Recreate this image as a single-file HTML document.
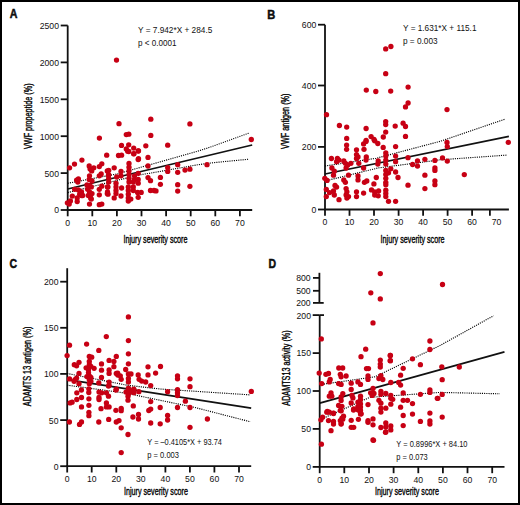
<!DOCTYPE html>
<html><head><meta charset="utf-8"><style>
html,body{margin:0;padding:0;background:#fff;}
svg{display:block;}
text{font-family:"Liberation Sans",sans-serif;fill:#111;}
line{stroke:#111;}
circle{fill:#c70014;}
.c{stroke:#000;fill:#000;stroke-width:0.35;}
</style></head><body>
<svg width="520" height="505" viewBox="0 0 520 505">
<rect x="1" y="1" width="518" height="503" fill="#fff" stroke="#000" stroke-width="2"/>
<line x1="67.7" y1="25.5" x2="67.7" y2="216.3" stroke-width="1.8"/>
<line x1="66.8" y1="210.0" x2="252.2" y2="210.0" stroke-width="1.8"/>
<line x1="60.7" y1="210.0" x2="67.7" y2="210.0" stroke-width="1.8"/>
<text x="59.0" y="213.4" text-anchor="end" font-size="9.8" textLength="4.82" lengthAdjust="spacingAndGlyphs">0</text>
<line x1="60.7" y1="173.1" x2="67.7" y2="173.1" stroke-width="1.8"/>
<text x="59.0" y="176.5" text-anchor="end" font-size="9.8" textLength="14.47" lengthAdjust="spacingAndGlyphs">500</text>
<line x1="60.7" y1="136.2" x2="67.7" y2="136.2" stroke-width="1.8"/>
<text x="59.0" y="139.6" text-anchor="end" font-size="9.8" textLength="19.29" lengthAdjust="spacingAndGlyphs">1000</text>
<line x1="60.7" y1="99.3" x2="67.7" y2="99.3" stroke-width="1.8"/>
<text x="59.0" y="102.7" text-anchor="end" font-size="9.8" textLength="19.29" lengthAdjust="spacingAndGlyphs">1500</text>
<line x1="60.7" y1="62.4" x2="67.7" y2="62.4" stroke-width="1.8"/>
<text x="59.0" y="65.8" text-anchor="end" font-size="9.8" textLength="19.29" lengthAdjust="spacingAndGlyphs">2000</text>
<line x1="60.7" y1="25.5" x2="67.7" y2="25.5" stroke-width="1.8"/>
<text x="59.0" y="28.9" text-anchor="end" font-size="9.8" textLength="19.29" lengthAdjust="spacingAndGlyphs">2500</text>
<text x="67.7" y="225.9" text-anchor="middle" font-size="9.8" textLength="4.82" lengthAdjust="spacingAndGlyphs">0</text>
<line x1="92.3" y1="210.0" x2="92.3" y2="216.3" stroke-width="1.8"/>
<text x="92.3" y="225.9" text-anchor="middle" font-size="9.8" textLength="9.65" lengthAdjust="spacingAndGlyphs">10</text>
<line x1="116.9" y1="210.0" x2="116.9" y2="216.3" stroke-width="1.8"/>
<text x="116.9" y="225.9" text-anchor="middle" font-size="9.8" textLength="9.65" lengthAdjust="spacingAndGlyphs">20</text>
<line x1="141.5" y1="210.0" x2="141.5" y2="216.3" stroke-width="1.8"/>
<text x="141.5" y="225.9" text-anchor="middle" font-size="9.8" textLength="9.65" lengthAdjust="spacingAndGlyphs">30</text>
<line x1="166.1" y1="210.0" x2="166.1" y2="216.3" stroke-width="1.8"/>
<text x="166.1" y="225.9" text-anchor="middle" font-size="9.8" textLength="9.65" lengthAdjust="spacingAndGlyphs">40</text>
<line x1="190.7" y1="210.0" x2="190.7" y2="216.3" stroke-width="1.8"/>
<text x="190.7" y="225.9" text-anchor="middle" font-size="9.8" textLength="9.65" lengthAdjust="spacingAndGlyphs">50</text>
<line x1="215.3" y1="210.0" x2="215.3" y2="216.3" stroke-width="1.8"/>
<text x="215.3" y="225.9" text-anchor="middle" font-size="9.8" textLength="9.65" lengthAdjust="spacingAndGlyphs">60</text>
<line x1="239.9" y1="210.0" x2="239.9" y2="216.3" stroke-width="1.8"/>
<text x="239.9" y="225.9" text-anchor="middle" font-size="9.8" textLength="9.65" lengthAdjust="spacingAndGlyphs">70</text>
<text x="155.5" y="243.3" text-anchor="middle" font-size="10.4" textLength="64" lengthAdjust="spacingAndGlyphs" class="c">Injury severity score</text>
<text x="9.7" y="18.0" text-anchor="start" font-size="12" font-weight="bold" stroke="#000" stroke-width="0.45" textLength="7.7" lengthAdjust="spacingAndGlyphs">A</text>
<text x="138.0" y="33.1" text-anchor="start" font-size="8.2" textLength="74.3" lengthAdjust="spacingAndGlyphs">Y = 7.942*X + 284.5</text>
<text x="138.0" y="46.0" text-anchor="start" font-size="8.2" textLength="38.5" lengthAdjust="spacingAndGlyphs">p &lt; 0.0001</text>
<text transform="translate(31.8,116.2) rotate(-90)" text-anchor="middle" font-size="10" class="c" textLength="65.6" lengthAdjust="spacingAndGlyphs">VWF propeptide (%)</text>
<line x1="67.7" y1="189.0" x2="252.2" y2="145.0" stroke-width="1.75"/>
<line x1="325.0" y1="24.7" x2="325.0" y2="215.8" stroke-width="1.8"/>
<line x1="324.1" y1="209.5" x2="508.9" y2="209.5" stroke-width="1.8"/>
<line x1="318.0" y1="209.5" x2="325.0" y2="209.5" stroke-width="1.8"/>
<text x="316.3" y="212.9" text-anchor="end" font-size="9.8" textLength="4.82" lengthAdjust="spacingAndGlyphs">0</text>
<line x1="318.0" y1="146.9" x2="325.0" y2="146.9" stroke-width="1.8"/>
<text x="316.3" y="150.3" text-anchor="end" font-size="9.8" textLength="14.47" lengthAdjust="spacingAndGlyphs">200</text>
<line x1="318.0" y1="85.5" x2="325.0" y2="85.5" stroke-width="1.8"/>
<text x="316.3" y="88.9" text-anchor="end" font-size="9.8" textLength="14.47" lengthAdjust="spacingAndGlyphs">400</text>
<line x1="318.0" y1="24.7" x2="325.0" y2="24.7" stroke-width="1.8"/>
<text x="316.3" y="28.1" text-anchor="end" font-size="9.8" textLength="14.47" lengthAdjust="spacingAndGlyphs">600</text>
<text x="325.0" y="225.4" text-anchor="middle" font-size="9.8" textLength="4.82" lengthAdjust="spacingAndGlyphs">0</text>
<line x1="349.5" y1="209.5" x2="349.5" y2="215.8" stroke-width="1.8"/>
<text x="349.5" y="225.4" text-anchor="middle" font-size="9.8" textLength="9.65" lengthAdjust="spacingAndGlyphs">10</text>
<line x1="374.0" y1="209.5" x2="374.0" y2="215.8" stroke-width="1.8"/>
<text x="374.0" y="225.4" text-anchor="middle" font-size="9.8" textLength="9.65" lengthAdjust="spacingAndGlyphs">20</text>
<line x1="398.6" y1="209.5" x2="398.6" y2="215.8" stroke-width="1.8"/>
<text x="398.6" y="225.4" text-anchor="middle" font-size="9.8" textLength="9.65" lengthAdjust="spacingAndGlyphs">30</text>
<line x1="423.1" y1="209.5" x2="423.1" y2="215.8" stroke-width="1.8"/>
<text x="423.1" y="225.4" text-anchor="middle" font-size="9.8" textLength="9.65" lengthAdjust="spacingAndGlyphs">40</text>
<line x1="447.6" y1="209.5" x2="447.6" y2="215.8" stroke-width="1.8"/>
<text x="447.6" y="225.4" text-anchor="middle" font-size="9.8" textLength="9.65" lengthAdjust="spacingAndGlyphs">50</text>
<line x1="472.1" y1="209.5" x2="472.1" y2="215.8" stroke-width="1.8"/>
<text x="472.1" y="225.4" text-anchor="middle" font-size="9.8" textLength="9.65" lengthAdjust="spacingAndGlyphs">60</text>
<line x1="489.9" y1="209.5" x2="489.9" y2="215.8" stroke-width="1.8"/>
<text x="496.6" y="225.4" text-anchor="middle" font-size="9.8" textLength="9.65" lengthAdjust="spacingAndGlyphs">70</text>
<text x="412.6" y="243.3" text-anchor="middle" font-size="10.4" textLength="64" lengthAdjust="spacingAndGlyphs" class="c">Injury severity score</text>
<text x="267.2" y="18.7" text-anchor="start" font-size="12" font-weight="bold" stroke="#000" stroke-width="0.45" textLength="8.0" lengthAdjust="spacingAndGlyphs">B</text>
<text x="403.0" y="31.2" text-anchor="start" font-size="8.2" textLength="73.5" lengthAdjust="spacingAndGlyphs">Y = 1.631*X + 115.1</text>
<text x="403.0" y="43.6" text-anchor="start" font-size="8.2" textLength="34.6" lengthAdjust="spacingAndGlyphs">p = 0.003</text>
<text transform="translate(289.3,121.2) rotate(-90)" text-anchor="middle" font-size="10" class="c" textLength="55.4" lengthAdjust="spacingAndGlyphs">VWF antigen (%)</text>
<line x1="325.0" y1="174.0" x2="508.9" y2="136.4" stroke-width="1.75"/>
<line x1="67.2" y1="268.2" x2="67.2" y2="472.5" stroke-width="1.8"/>
<line x1="66.3" y1="466.2" x2="251.2" y2="466.2" stroke-width="1.8"/>
<line x1="60.2" y1="466.2" x2="67.2" y2="466.2" stroke-width="1.8"/>
<text x="58.5" y="469.6" text-anchor="end" font-size="9.8" textLength="4.82" lengthAdjust="spacingAndGlyphs">0</text>
<line x1="60.2" y1="420.1" x2="67.2" y2="420.1" stroke-width="1.8"/>
<text x="58.5" y="423.5" text-anchor="end" font-size="9.8" textLength="9.65" lengthAdjust="spacingAndGlyphs">50</text>
<line x1="60.2" y1="373.9" x2="67.2" y2="373.9" stroke-width="1.8"/>
<text x="58.5" y="377.3" text-anchor="end" font-size="9.8" textLength="14.47" lengthAdjust="spacingAndGlyphs">100</text>
<line x1="60.2" y1="327.8" x2="67.2" y2="327.8" stroke-width="1.8"/>
<text x="58.5" y="331.2" text-anchor="end" font-size="9.8" textLength="14.47" lengthAdjust="spacingAndGlyphs">150</text>
<line x1="60.2" y1="281.7" x2="67.2" y2="281.7" stroke-width="1.8"/>
<text x="58.5" y="285.1" text-anchor="end" font-size="9.8" textLength="14.47" lengthAdjust="spacingAndGlyphs">200</text>
<text x="67.2" y="482.1" text-anchor="middle" font-size="9.8" textLength="4.82" lengthAdjust="spacingAndGlyphs">0</text>
<line x1="91.7" y1="466.2" x2="91.7" y2="472.5" stroke-width="1.8"/>
<text x="91.7" y="482.1" text-anchor="middle" font-size="9.8" textLength="9.65" lengthAdjust="spacingAndGlyphs">10</text>
<line x1="116.3" y1="466.2" x2="116.3" y2="472.5" stroke-width="1.8"/>
<text x="116.3" y="482.1" text-anchor="middle" font-size="9.8" textLength="9.65" lengthAdjust="spacingAndGlyphs">20</text>
<line x1="140.8" y1="466.2" x2="140.8" y2="472.5" stroke-width="1.8"/>
<text x="140.8" y="482.1" text-anchor="middle" font-size="9.8" textLength="9.65" lengthAdjust="spacingAndGlyphs">30</text>
<line x1="165.4" y1="466.2" x2="165.4" y2="472.5" stroke-width="1.8"/>
<text x="165.4" y="482.1" text-anchor="middle" font-size="9.8" textLength="9.65" lengthAdjust="spacingAndGlyphs">40</text>
<line x1="189.9" y1="466.2" x2="189.9" y2="472.5" stroke-width="1.8"/>
<text x="189.9" y="482.1" text-anchor="middle" font-size="9.8" textLength="9.65" lengthAdjust="spacingAndGlyphs">50</text>
<line x1="214.4" y1="466.2" x2="214.4" y2="472.5" stroke-width="1.8"/>
<text x="214.4" y="482.1" text-anchor="middle" font-size="9.8" textLength="9.65" lengthAdjust="spacingAndGlyphs">60</text>
<line x1="239.0" y1="466.2" x2="239.0" y2="472.5" stroke-width="1.8"/>
<text x="239.0" y="482.1" text-anchor="middle" font-size="9.8" textLength="9.65" lengthAdjust="spacingAndGlyphs">70</text>
<text x="155.9" y="495.0" text-anchor="middle" font-size="10.4" textLength="64" lengthAdjust="spacingAndGlyphs" class="c">Injury severity score</text>
<text x="9.4" y="268.4" text-anchor="start" font-size="12" font-weight="bold" stroke="#000" stroke-width="0.45" textLength="7.6" lengthAdjust="spacingAndGlyphs">C</text>
<text x="147.3" y="445.4" text-anchor="start" font-size="8.2" textLength="74.6" lengthAdjust="spacingAndGlyphs">Y = &#8211;0.4105*X + 93.74</text>
<text x="147.3" y="457.5" text-anchor="start" font-size="8.2" textLength="31.7" lengthAdjust="spacingAndGlyphs">p = 0.003</text>
<text transform="translate(31.3,366.4) rotate(-90)" text-anchor="middle" font-size="10" class="c" textLength="79.6" lengthAdjust="spacingAndGlyphs">ADAMTS 13 antigen (%)</text>
<line x1="67.2" y1="379.7" x2="251.2" y2="408.1" stroke-width="1.75"/>
<line x1="319.7" y1="315.1" x2="319.7" y2="473.2" stroke-width="1.8"/>
<line x1="318.8" y1="466.9" x2="504.5" y2="466.9" stroke-width="1.8"/>
<line x1="312.7" y1="466.9" x2="319.7" y2="466.9" stroke-width="1.8"/>
<text x="311.0" y="470.3" text-anchor="end" font-size="9.8" textLength="4.82" lengthAdjust="spacingAndGlyphs">0</text>
<line x1="312.7" y1="428.9" x2="319.7" y2="428.9" stroke-width="1.8"/>
<text x="311.0" y="432.3" text-anchor="end" font-size="9.8" textLength="9.65" lengthAdjust="spacingAndGlyphs">50</text>
<line x1="312.7" y1="391.0" x2="319.7" y2="391.0" stroke-width="1.8"/>
<text x="311.0" y="394.4" text-anchor="end" font-size="9.8" textLength="14.47" lengthAdjust="spacingAndGlyphs">100</text>
<line x1="312.7" y1="353.1" x2="319.7" y2="353.1" stroke-width="1.8"/>
<text x="311.0" y="356.4" text-anchor="end" font-size="9.8" textLength="14.47" lengthAdjust="spacingAndGlyphs">150</text>
<line x1="312.7" y1="315.1" x2="319.7" y2="315.1" stroke-width="1.8"/>
<text x="311.0" y="318.5" text-anchor="end" font-size="9.8" textLength="14.47" lengthAdjust="spacingAndGlyphs">200</text>
<text x="319.7" y="482.8" text-anchor="middle" font-size="9.8" textLength="4.82" lengthAdjust="spacingAndGlyphs">0</text>
<line x1="344.3" y1="466.9" x2="344.3" y2="473.2" stroke-width="1.8"/>
<text x="344.3" y="482.8" text-anchor="middle" font-size="9.8" textLength="9.65" lengthAdjust="spacingAndGlyphs">10</text>
<line x1="369.0" y1="466.9" x2="369.0" y2="473.2" stroke-width="1.8"/>
<text x="369.0" y="482.8" text-anchor="middle" font-size="9.8" textLength="9.65" lengthAdjust="spacingAndGlyphs">20</text>
<line x1="393.6" y1="466.9" x2="393.6" y2="473.2" stroke-width="1.8"/>
<text x="393.6" y="482.8" text-anchor="middle" font-size="9.8" textLength="9.65" lengthAdjust="spacingAndGlyphs">30</text>
<line x1="418.3" y1="466.9" x2="418.3" y2="473.2" stroke-width="1.8"/>
<text x="418.3" y="482.8" text-anchor="middle" font-size="9.8" textLength="9.65" lengthAdjust="spacingAndGlyphs">40</text>
<line x1="442.9" y1="466.9" x2="442.9" y2="473.2" stroke-width="1.8"/>
<text x="442.9" y="482.8" text-anchor="middle" font-size="9.8" textLength="9.65" lengthAdjust="spacingAndGlyphs">50</text>
<line x1="467.5" y1="466.9" x2="467.5" y2="473.2" stroke-width="1.8"/>
<text x="467.5" y="482.8" text-anchor="middle" font-size="9.8" textLength="9.65" lengthAdjust="spacingAndGlyphs">60</text>
<line x1="492.2" y1="466.9" x2="492.2" y2="473.2" stroke-width="1.8"/>
<text x="492.2" y="482.8" text-anchor="middle" font-size="9.8" textLength="9.65" lengthAdjust="spacingAndGlyphs">70</text>
<text x="406.9" y="495.0" text-anchor="middle" font-size="10.4" textLength="64" lengthAdjust="spacingAndGlyphs" class="c">Injury severity score</text>
<text x="268.6" y="268.1" text-anchor="start" font-size="12" font-weight="bold" stroke="#000" stroke-width="0.45" textLength="7.6" lengthAdjust="spacingAndGlyphs">D</text>
<text x="396.3" y="447.3" text-anchor="start" font-size="8.2" textLength="71.2" lengthAdjust="spacingAndGlyphs">Y = 0.8996*X + 84.10</text>
<text x="396.3" y="460.4" text-anchor="start" font-size="8.2" textLength="31.4" lengthAdjust="spacingAndGlyphs">p = 0.073</text>
<text transform="translate(289.5,368.0) rotate(-90)" text-anchor="middle" font-size="10" class="c" textLength="75.3" lengthAdjust="spacingAndGlyphs">ADAMTS13 activity (%)</text>
<line x1="319.7" y1="403.1" x2="504.5" y2="351.9" stroke-width="1.75"/>
<polyline points="67.7,183.3 118.2,173.7 140.0,167.5 150.0,164.7 197.7,151.2 210.0,147.2 249.7,132.8" fill="none" stroke="#000" stroke-width="1.15" stroke-dasharray="1.1 1.1"/>
<polyline points="67.7,192.6 119.4,179.8 140.0,174.8 150.0,173.2 197.7,164.8 211.4,162.9 248.8,159.2" fill="none" stroke="#000" stroke-width="1.15" stroke-dasharray="1.1 1.1"/>
<polyline points="325.0,166.0 376.0,158.3 435.0,142.7 440.0,141.4 505.5,119.0" fill="none" stroke="#000" stroke-width="1.15" stroke-dasharray="1.1 1.1"/>
<polyline points="325.0,181.0 378.0,168.0 435.0,160.5 440.0,159.8 507.0,155.1" fill="none" stroke="#000" stroke-width="1.15" stroke-dasharray="1.1 1.1"/>
<polyline points="67.2,373.5 127.5,385.3 160.0,389.0 200.0,391.6 250.5,394.9" fill="none" stroke="#000" stroke-width="1.15" stroke-dasharray="1.1 1.1"/>
<polyline points="67.2,385.2 125.0,393.0 195.0,407.5 250.5,421.8" fill="none" stroke="#000" stroke-width="1.15" stroke-dasharray="1.1 1.1"/>
<polyline points="321.7,384.4 370.0,377.5 374.9,376.8 440.0,345.5 493.6,315.7" fill="none" stroke="#000" stroke-width="1.15" stroke-dasharray="1.1 1.1"/>
<polyline points="321.7,418.9 370.0,397.3 440.0,392.4 499.9,393.8" fill="none" stroke="#000" stroke-width="1.15" stroke-dasharray="1.1 1.1"/>
<line x1="319.7" y1="315.1" x2="324.0" y2="315.1" stroke-width="1.8"/>
<line x1="319.4" y1="272.8" x2="319.4" y2="302.9" stroke-width="1.8"/>
<line x1="313.0" y1="302.9" x2="323.7" y2="302.9" stroke-width="1.8"/>
<line x1="313.0" y1="277.9" x2="319.4" y2="277.9" stroke-width="1.8"/>
<line x1="313.0" y1="290.8" x2="319.4" y2="290.8" stroke-width="1.8"/>
<text x="310.7" y="281.3" text-anchor="end" font-size="9.8" textLength="14.47" lengthAdjust="spacingAndGlyphs">800</text>
<text x="310.7" y="294.2" text-anchor="end" font-size="9.8" textLength="14.47" lengthAdjust="spacingAndGlyphs">500</text>
<text x="310.7" y="306.3" text-anchor="end" font-size="9.8" textLength="14.47" lengthAdjust="spacingAndGlyphs">200</text>
<circle cx="116.5" cy="60.1" r="2.65"/>
<circle cx="106.7" cy="155.2" r="2.65"/>
<circle cx="81.9" cy="160.1" r="2.65"/>
<circle cx="74.5" cy="164.1" r="2.65"/>
<circle cx="69.6" cy="167.8" r="2.65"/>
<circle cx="89.2" cy="166.0" r="2.65"/>
<circle cx="90.1" cy="169.0" r="2.65"/>
<circle cx="93.8" cy="167.8" r="2.65"/>
<circle cx="91.7" cy="170.9" r="2.65"/>
<circle cx="101.8" cy="163.8" r="2.65"/>
<circle cx="99.3" cy="166.6" r="2.65"/>
<circle cx="107.3" cy="170.9" r="2.65"/>
<circle cx="101.2" cy="174.0" r="2.65"/>
<circle cx="99.3" cy="175.8" r="2.65"/>
<circle cx="108.5" cy="175.2" r="2.65"/>
<circle cx="89.5" cy="175.8" r="2.65"/>
<circle cx="89.2" cy="179.5" r="2.65"/>
<circle cx="78.4" cy="178.9" r="2.65"/>
<circle cx="76.6" cy="180.1" r="2.65"/>
<circle cx="77.8" cy="182.0" r="2.65"/>
<circle cx="92.0" cy="181.0" r="2.65"/>
<circle cx="87.0" cy="185.0" r="2.65"/>
<circle cx="89.5" cy="185.6" r="2.65"/>
<circle cx="91.3" cy="186.9" r="2.65"/>
<circle cx="74.7" cy="189.3" r="2.65"/>
<circle cx="78.4" cy="189.9" r="2.65"/>
<circle cx="81.5" cy="191.8" r="2.65"/>
<circle cx="79.7" cy="194.2" r="2.65"/>
<circle cx="82.7" cy="195.5" r="2.65"/>
<circle cx="87.6" cy="189.3" r="2.65"/>
<circle cx="89.5" cy="191.8" r="2.65"/>
<circle cx="92.0" cy="193.6" r="2.65"/>
<circle cx="88.3" cy="195.5" r="2.65"/>
<circle cx="90.7" cy="197.9" r="2.65"/>
<circle cx="91.3" cy="199.1" r="2.65"/>
<circle cx="89.5" cy="204.1" r="2.65"/>
<circle cx="99.3" cy="189.3" r="2.65"/>
<circle cx="101.8" cy="186.2" r="2.65"/>
<circle cx="99.3" cy="194.8" r="2.65"/>
<circle cx="107.3" cy="193.6" r="2.65"/>
<circle cx="107.9" cy="186.9" r="2.65"/>
<circle cx="72.3" cy="196.1" r="2.65"/>
<circle cx="77.2" cy="197.9" r="2.65"/>
<circle cx="77.2" cy="201.6" r="2.65"/>
<circle cx="70.4" cy="201.0" r="2.65"/>
<circle cx="67.4" cy="202.8" r="2.65"/>
<circle cx="69.2" cy="204.1" r="2.65"/>
<circle cx="99.3" cy="204.7" r="2.65"/>
<circle cx="101.8" cy="204.1" r="2.65"/>
<circle cx="81.5" cy="195.5" r="2.65"/>
<circle cx="118.5" cy="155.5" r="2.65"/>
<circle cx="121.6" cy="155.2" r="2.65"/>
<circle cx="127.7" cy="151.2" r="2.65"/>
<circle cx="133.9" cy="153.7" r="2.65"/>
<circle cx="138.2" cy="151.0" r="2.65"/>
<circle cx="148.0" cy="157.4" r="2.65"/>
<circle cx="138.2" cy="159.6" r="2.65"/>
<circle cx="114.2" cy="167.8" r="2.65"/>
<circle cx="108.7" cy="170.3" r="2.65"/>
<circle cx="121.0" cy="171.5" r="2.65"/>
<circle cx="148.0" cy="166.0" r="2.65"/>
<circle cx="129.0" cy="163.5" r="2.65"/>
<circle cx="129.0" cy="167.2" r="2.65"/>
<circle cx="129.0" cy="170.9" r="2.65"/>
<circle cx="129.0" cy="174.6" r="2.65"/>
<circle cx="129.0" cy="178.3" r="2.65"/>
<circle cx="129.0" cy="182.0" r="2.65"/>
<circle cx="138.2" cy="173.3" r="2.65"/>
<circle cx="134.5" cy="175.8" r="2.65"/>
<circle cx="134.5" cy="179.5" r="2.65"/>
<circle cx="138.2" cy="179.5" r="2.65"/>
<circle cx="138.2" cy="183.2" r="2.65"/>
<circle cx="133.3" cy="182.0" r="2.65"/>
<circle cx="148.0" cy="177.6" r="2.65"/>
<circle cx="150.5" cy="180.7" r="2.65"/>
<circle cx="108.7" cy="174.6" r="2.65"/>
<circle cx="108.7" cy="178.3" r="2.65"/>
<circle cx="108.7" cy="182.0" r="2.65"/>
<circle cx="116.7" cy="177.0" r="2.65"/>
<circle cx="121.0" cy="175.8" r="2.65"/>
<circle cx="116.0" cy="183.2" r="2.65"/>
<circle cx="116.0" cy="186.9" r="2.65"/>
<circle cx="116.0" cy="190.5" r="2.65"/>
<circle cx="116.0" cy="193.6" r="2.65"/>
<circle cx="121.6" cy="188.0" r="2.65"/>
<circle cx="107.5" cy="186.9" r="2.65"/>
<circle cx="107.5" cy="191.8" r="2.65"/>
<circle cx="108.0" cy="194.2" r="2.65"/>
<circle cx="121.0" cy="196.0" r="2.65"/>
<circle cx="114.2" cy="197.9" r="2.65"/>
<circle cx="128.3" cy="186.9" r="2.65"/>
<circle cx="128.3" cy="190.5" r="2.65"/>
<circle cx="128.3" cy="194.2" r="2.65"/>
<circle cx="128.3" cy="197.9" r="2.65"/>
<circle cx="128.3" cy="201.0" r="2.65"/>
<circle cx="133.3" cy="186.9" r="2.65"/>
<circle cx="133.3" cy="190.5" r="2.65"/>
<circle cx="137.6" cy="192.4" r="2.65"/>
<circle cx="141.2" cy="192.4" r="2.65"/>
<circle cx="138.2" cy="197.3" r="2.65"/>
<circle cx="130.8" cy="199.1" r="2.65"/>
<circle cx="150.5" cy="190.5" r="2.65"/>
<circle cx="154.0" cy="190.5" r="2.65"/>
<circle cx="150.8" cy="119.2" r="2.65"/>
<circle cx="119.0" cy="123.7" r="2.65"/>
<circle cx="99.4" cy="138.1" r="2.65"/>
<circle cx="126.3" cy="134.6" r="2.65"/>
<circle cx="128.8" cy="134.2" r="2.65"/>
<circle cx="150.8" cy="135.4" r="2.65"/>
<circle cx="121.5" cy="145.4" r="2.65"/>
<circle cx="128.7" cy="144.8" r="2.65"/>
<circle cx="126.3" cy="149.0" r="2.65"/>
<circle cx="128.8" cy="151.5" r="2.65"/>
<circle cx="133.7" cy="148.1" r="2.65"/>
<circle cx="138.5" cy="150.8" r="2.65"/>
<circle cx="145.8" cy="145.8" r="2.65"/>
<circle cx="133.7" cy="153.8" r="2.65"/>
<circle cx="138.5" cy="158.7" r="2.65"/>
<circle cx="189.9" cy="123.9" r="2.65"/>
<circle cx="167.7" cy="145.2" r="2.65"/>
<circle cx="251.3" cy="139.5" r="2.65"/>
<circle cx="177.7" cy="164.7" r="2.65"/>
<circle cx="167.7" cy="167.6" r="2.65"/>
<circle cx="167.7" cy="171.4" r="2.65"/>
<circle cx="177.7" cy="172.3" r="2.65"/>
<circle cx="185.0" cy="170.1" r="2.65"/>
<circle cx="189.9" cy="169.2" r="2.65"/>
<circle cx="207.0" cy="164.7" r="2.65"/>
<circle cx="160.4" cy="177.4" r="2.65"/>
<circle cx="160.4" cy="184.3" r="2.65"/>
<circle cx="177.7" cy="184.7" r="2.65"/>
<circle cx="189.9" cy="186.3" r="2.65"/>
<circle cx="156.0" cy="190.9" r="2.65"/>
<circle cx="177.7" cy="191.1" r="2.65"/>
<circle cx="385.7" cy="48.9" r="2.65"/>
<circle cx="390.9" cy="46.5" r="2.65"/>
<circle cx="385.7" cy="73.7" r="2.65"/>
<circle cx="366.3" cy="90.1" r="2.65"/>
<circle cx="375.8" cy="91.5" r="2.65"/>
<circle cx="390.7" cy="91.1" r="2.65"/>
<circle cx="408.1" cy="87.1" r="2.65"/>
<circle cx="408.1" cy="103.0" r="2.65"/>
<circle cx="405.5" cy="106.9" r="2.65"/>
<circle cx="326.5" cy="114.7" r="2.65"/>
<circle cx="339.4" cy="125.5" r="2.65"/>
<circle cx="346.7" cy="127.1" r="2.65"/>
<circle cx="366.1" cy="128.5" r="2.65"/>
<circle cx="385.7" cy="121.6" r="2.65"/>
<circle cx="385.7" cy="124.6" r="2.65"/>
<circle cx="395.2" cy="126.1" r="2.65"/>
<circle cx="403.1" cy="123.2" r="2.65"/>
<circle cx="405.5" cy="126.5" r="2.65"/>
<circle cx="385.7" cy="132.1" r="2.65"/>
<circle cx="346.7" cy="138.4" r="2.65"/>
<circle cx="366.1" cy="140.4" r="2.65"/>
<circle cx="371.1" cy="136.6" r="2.65"/>
<circle cx="374.0" cy="139.4" r="2.65"/>
<circle cx="383.3" cy="137.0" r="2.65"/>
<circle cx="405.5" cy="136.4" r="2.65"/>
<circle cx="447.0" cy="109.6" r="2.65"/>
<circle cx="447.0" cy="142.5" r="2.65"/>
<circle cx="508.3" cy="142.3" r="2.65"/>
<circle cx="346.6" cy="145.1" r="2.65"/>
<circle cx="346.6" cy="149.3" r="2.65"/>
<circle cx="374.7" cy="140.8" r="2.65"/>
<circle cx="377.8" cy="143.5" r="2.65"/>
<circle cx="366.0" cy="141.4" r="2.65"/>
<circle cx="363.6" cy="143.9" r="2.65"/>
<circle cx="364.0" cy="149.3" r="2.65"/>
<circle cx="356.5" cy="149.8" r="2.65"/>
<circle cx="356.5" cy="154.6" r="2.65"/>
<circle cx="358.0" cy="156.9" r="2.65"/>
<circle cx="356.5" cy="158.5" r="2.65"/>
<circle cx="366.3" cy="156.9" r="2.65"/>
<circle cx="366.0" cy="160.1" r="2.65"/>
<circle cx="331.4" cy="158.5" r="2.65"/>
<circle cx="337.4" cy="158.5" r="2.65"/>
<circle cx="339.0" cy="160.1" r="2.65"/>
<circle cx="336.6" cy="161.7" r="2.65"/>
<circle cx="343.8" cy="160.9" r="2.65"/>
<circle cx="345.4" cy="163.3" r="2.65"/>
<circle cx="347.7" cy="164.9" r="2.65"/>
<circle cx="350.9" cy="163.3" r="2.65"/>
<circle cx="358.8" cy="163.3" r="2.65"/>
<circle cx="377.8" cy="164.1" r="2.65"/>
<circle cx="331.9" cy="168.0" r="2.65"/>
<circle cx="334.3" cy="171.2" r="2.65"/>
<circle cx="333.5" cy="175.2" r="2.65"/>
<circle cx="346.1" cy="168.0" r="2.65"/>
<circle cx="348.5" cy="175.2" r="2.65"/>
<circle cx="363.6" cy="168.0" r="2.65"/>
<circle cx="324.8" cy="178.3" r="2.65"/>
<circle cx="327.1" cy="180.4" r="2.65"/>
<circle cx="343.8" cy="179.9" r="2.65"/>
<circle cx="345.4" cy="182.3" r="2.65"/>
<circle cx="358.0" cy="176.0" r="2.65"/>
<circle cx="358.0" cy="179.9" r="2.65"/>
<circle cx="364.4" cy="182.3" r="2.65"/>
<circle cx="366.8" cy="181.0" r="2.65"/>
<circle cx="376.3" cy="177.5" r="2.65"/>
<circle cx="373.9" cy="183.9" r="2.65"/>
<circle cx="335.0" cy="185.5" r="2.65"/>
<circle cx="336.6" cy="187.1" r="2.65"/>
<circle cx="326.3" cy="189.4" r="2.65"/>
<circle cx="333.5" cy="191.0" r="2.65"/>
<circle cx="329.5" cy="192.6" r="2.65"/>
<circle cx="326.3" cy="196.6" r="2.65"/>
<circle cx="334.3" cy="195.0" r="2.65"/>
<circle cx="339.0" cy="199.7" r="2.65"/>
<circle cx="346.1" cy="188.6" r="2.65"/>
<circle cx="346.9" cy="191.8" r="2.65"/>
<circle cx="346.1" cy="195.0" r="2.65"/>
<circle cx="348.5" cy="196.6" r="2.65"/>
<circle cx="346.9" cy="198.1" r="2.65"/>
<circle cx="356.5" cy="191.8" r="2.65"/>
<circle cx="356.5" cy="196.6" r="2.65"/>
<circle cx="363.6" cy="193.1" r="2.65"/>
<circle cx="371.5" cy="189.9" r="2.65"/>
<circle cx="374.7" cy="191.8" r="2.65"/>
<circle cx="374.7" cy="195.0" r="2.65"/>
<circle cx="378.6" cy="191.0" r="2.65"/>
<circle cx="383.2" cy="147.4" r="2.65"/>
<circle cx="395.6" cy="146.6" r="2.65"/>
<circle cx="385.8" cy="153.0" r="2.65"/>
<circle cx="385.8" cy="156.1" r="2.65"/>
<circle cx="385.8" cy="160.1" r="2.65"/>
<circle cx="385.8" cy="164.1" r="2.65"/>
<circle cx="378.2" cy="160.9" r="2.65"/>
<circle cx="395.6" cy="156.1" r="2.65"/>
<circle cx="395.6" cy="161.7" r="2.65"/>
<circle cx="408.0" cy="157.7" r="2.65"/>
<circle cx="412.6" cy="164.5" r="2.65"/>
<circle cx="417.5" cy="160.9" r="2.65"/>
<circle cx="417.5" cy="166.1" r="2.65"/>
<circle cx="424.9" cy="159.3" r="2.65"/>
<circle cx="434.9" cy="160.4" r="2.65"/>
<circle cx="434.9" cy="168.0" r="2.65"/>
<circle cx="434.9" cy="170.4" r="2.65"/>
<circle cx="390.8" cy="168.8" r="2.65"/>
<circle cx="395.6" cy="172.0" r="2.65"/>
<circle cx="385.8" cy="170.4" r="2.65"/>
<circle cx="385.8" cy="174.4" r="2.65"/>
<circle cx="385.8" cy="178.3" r="2.65"/>
<circle cx="385.8" cy="182.3" r="2.65"/>
<circle cx="385.8" cy="184.7" r="2.65"/>
<circle cx="388.5" cy="172.8" r="2.65"/>
<circle cx="398.0" cy="177.5" r="2.65"/>
<circle cx="424.9" cy="175.2" r="2.65"/>
<circle cx="408.0" cy="185.2" r="2.65"/>
<circle cx="434.9" cy="181.0" r="2.65"/>
<circle cx="434.9" cy="184.7" r="2.65"/>
<circle cx="424.9" cy="188.6" r="2.65"/>
<circle cx="385.8" cy="190.2" r="2.65"/>
<circle cx="385.8" cy="193.4" r="2.65"/>
<circle cx="385.8" cy="196.6" r="2.65"/>
<circle cx="378.2" cy="195.8" r="2.65"/>
<circle cx="388.5" cy="201.3" r="2.65"/>
<circle cx="395.6" cy="201.3" r="2.65"/>
<circle cx="447.3" cy="146.6" r="2.65"/>
<circle cx="442.5" cy="157.9" r="2.65"/>
<circle cx="447.3" cy="161.1" r="2.65"/>
<circle cx="464.3" cy="174.6" r="2.65"/>
<circle cx="106.3" cy="336.6" r="2.65"/>
<circle cx="69.5" cy="345.2" r="2.65"/>
<circle cx="86.6" cy="344.1" r="2.65"/>
<circle cx="98.8" cy="350.4" r="2.65"/>
<circle cx="67.1" cy="355.6" r="2.65"/>
<circle cx="89.3" cy="356.4" r="2.65"/>
<circle cx="91.7" cy="357.2" r="2.65"/>
<circle cx="116.3" cy="356.4" r="2.65"/>
<circle cx="74.3" cy="364.7" r="2.65"/>
<circle cx="76.6" cy="365.8" r="2.65"/>
<circle cx="79.0" cy="362.3" r="2.65"/>
<circle cx="89.3" cy="361.5" r="2.65"/>
<circle cx="89.3" cy="364.7" r="2.65"/>
<circle cx="90.9" cy="366.3" r="2.65"/>
<circle cx="86.1" cy="367.8" r="2.65"/>
<circle cx="88.5" cy="369.4" r="2.65"/>
<circle cx="94.1" cy="368.3" r="2.65"/>
<circle cx="101.5" cy="363.9" r="2.65"/>
<circle cx="109.1" cy="360.4" r="2.65"/>
<circle cx="113.9" cy="361.5" r="2.65"/>
<circle cx="113.9" cy="366.7" r="2.65"/>
<circle cx="101.5" cy="370.2" r="2.65"/>
<circle cx="109.1" cy="369.9" r="2.65"/>
<circle cx="109.1" cy="373.4" r="2.65"/>
<circle cx="79.0" cy="373.4" r="2.65"/>
<circle cx="88.5" cy="372.6" r="2.65"/>
<circle cx="89.3" cy="375.8" r="2.65"/>
<circle cx="86.9" cy="376.6" r="2.65"/>
<circle cx="90.9" cy="377.4" r="2.65"/>
<circle cx="89.3" cy="379.7" r="2.65"/>
<circle cx="90.9" cy="381.3" r="2.65"/>
<circle cx="101.5" cy="377.4" r="2.65"/>
<circle cx="116.3" cy="373.4" r="2.65"/>
<circle cx="117.8" cy="375.0" r="2.65"/>
<circle cx="69.5" cy="378.9" r="2.65"/>
<circle cx="75.0" cy="379.7" r="2.65"/>
<circle cx="76.6" cy="378.1" r="2.65"/>
<circle cx="79.0" cy="383.7" r="2.65"/>
<circle cx="89.3" cy="383.7" r="2.65"/>
<circle cx="98.8" cy="382.9" r="2.65"/>
<circle cx="109.1" cy="382.1" r="2.65"/>
<circle cx="109.1" cy="385.3" r="2.65"/>
<circle cx="81.4" cy="390.0" r="2.65"/>
<circle cx="116.3" cy="389.2" r="2.65"/>
<circle cx="128.4" cy="316.9" r="2.65"/>
<circle cx="128.4" cy="340.6" r="2.65"/>
<circle cx="128.4" cy="353.8" r="2.65"/>
<circle cx="128.4" cy="363.8" r="2.65"/>
<circle cx="125.7" cy="369.5" r="2.65"/>
<circle cx="148.0" cy="366.8" r="2.65"/>
<circle cx="160.5" cy="366.5" r="2.65"/>
<circle cx="117.7" cy="373.1" r="2.65"/>
<circle cx="120.3" cy="375.8" r="2.65"/>
<circle cx="121.2" cy="379.3" r="2.65"/>
<circle cx="128.4" cy="374.0" r="2.65"/>
<circle cx="131.0" cy="374.0" r="2.65"/>
<circle cx="128.4" cy="378.4" r="2.65"/>
<circle cx="128.4" cy="382.0" r="2.65"/>
<circle cx="138.2" cy="374.9" r="2.65"/>
<circle cx="139.1" cy="379.3" r="2.65"/>
<circle cx="141.7" cy="381.1" r="2.65"/>
<circle cx="148.0" cy="374.9" r="2.65"/>
<circle cx="155.6" cy="373.1" r="2.65"/>
<circle cx="145.7" cy="382.0" r="2.65"/>
<circle cx="150.7" cy="385.6" r="2.65"/>
<circle cx="128.4" cy="388.2" r="2.65"/>
<circle cx="133.7" cy="389.1" r="2.65"/>
<circle cx="74.1" cy="381.3" r="2.65"/>
<circle cx="108.5" cy="386.1" r="2.65"/>
<circle cx="76.8" cy="392.8" r="2.65"/>
<circle cx="88.8" cy="388.8" r="2.65"/>
<circle cx="88.8" cy="392.5" r="2.65"/>
<circle cx="99.0" cy="392.1" r="2.65"/>
<circle cx="101.7" cy="392.8" r="2.65"/>
<circle cx="106.4" cy="392.8" r="2.65"/>
<circle cx="108.5" cy="396.2" r="2.65"/>
<circle cx="115.9" cy="390.1" r="2.65"/>
<circle cx="126.0" cy="392.1" r="2.65"/>
<circle cx="128.0" cy="396.2" r="2.65"/>
<circle cx="128.0" cy="400.2" r="2.65"/>
<circle cx="70.1" cy="402.9" r="2.65"/>
<circle cx="72.1" cy="402.2" r="2.65"/>
<circle cx="76.8" cy="399.5" r="2.65"/>
<circle cx="81.5" cy="397.5" r="2.65"/>
<circle cx="88.9" cy="398.8" r="2.65"/>
<circle cx="99.0" cy="397.5" r="2.65"/>
<circle cx="99.0" cy="399.5" r="2.65"/>
<circle cx="81.5" cy="406.9" r="2.65"/>
<circle cx="88.9" cy="405.3" r="2.65"/>
<circle cx="106.4" cy="402.9" r="2.65"/>
<circle cx="106.4" cy="406.9" r="2.65"/>
<circle cx="109.1" cy="406.9" r="2.65"/>
<circle cx="101.0" cy="408.7" r="2.65"/>
<circle cx="115.9" cy="410.3" r="2.65"/>
<circle cx="121.2" cy="408.3" r="2.65"/>
<circle cx="121.2" cy="410.7" r="2.65"/>
<circle cx="88.9" cy="412.3" r="2.65"/>
<circle cx="88.9" cy="415.7" r="2.65"/>
<circle cx="69.4" cy="422.0" r="2.65"/>
<circle cx="79.5" cy="424.4" r="2.65"/>
<circle cx="81.5" cy="422.0" r="2.65"/>
<circle cx="98.8" cy="422.0" r="2.65"/>
<circle cx="108.7" cy="419.4" r="2.65"/>
<circle cx="116.3" cy="422.0" r="2.65"/>
<circle cx="119.0" cy="420.6" r="2.65"/>
<circle cx="121.2" cy="427.8" r="2.65"/>
<circle cx="128.0" cy="434.5" r="2.65"/>
<circle cx="177.5" cy="375.8" r="2.65"/>
<circle cx="177.5" cy="378.8" r="2.65"/>
<circle cx="190.0" cy="378.8" r="2.65"/>
<circle cx="190.0" cy="386.7" r="2.65"/>
<circle cx="128.6" cy="389.7" r="2.65"/>
<circle cx="128.6" cy="393.7" r="2.65"/>
<circle cx="131.0" cy="391.7" r="2.65"/>
<circle cx="133.9" cy="392.7" r="2.65"/>
<circle cx="133.9" cy="389.7" r="2.65"/>
<circle cx="138.9" cy="391.7" r="2.65"/>
<circle cx="167.6" cy="391.7" r="2.65"/>
<circle cx="177.5" cy="389.7" r="2.65"/>
<circle cx="177.5" cy="392.7" r="2.65"/>
<circle cx="177.5" cy="395.6" r="2.65"/>
<circle cx="185.4" cy="401.2" r="2.65"/>
<circle cx="150.7" cy="401.6" r="2.65"/>
<circle cx="133.3" cy="405.9" r="2.65"/>
<circle cx="160.2" cy="407.5" r="2.65"/>
<circle cx="148.8" cy="410.5" r="2.65"/>
<circle cx="150.7" cy="409.1" r="2.65"/>
<circle cx="177.5" cy="407.5" r="2.65"/>
<circle cx="190.0" cy="407.5" r="2.65"/>
<circle cx="132.9" cy="417.0" r="2.65"/>
<circle cx="138.5" cy="414.5" r="2.65"/>
<circle cx="138.5" cy="419.0" r="2.65"/>
<circle cx="167.6" cy="415.4" r="2.65"/>
<circle cx="167.6" cy="420.0" r="2.65"/>
<circle cx="150.7" cy="423.0" r="2.65"/>
<circle cx="160.2" cy="423.8" r="2.65"/>
<circle cx="190.0" cy="427.3" r="2.65"/>
<circle cx="251.3" cy="391.4" r="2.65"/>
<circle cx="207.4" cy="419.0" r="2.65"/>
<circle cx="121.2" cy="452.6" r="2.65"/>
<circle cx="380.3" cy="273.6" r="2.65"/>
<circle cx="370.8" cy="292.8" r="2.65"/>
<circle cx="380.3" cy="298.9" r="2.65"/>
<circle cx="373.0" cy="322.9" r="2.65"/>
<circle cx="321.3" cy="338.9" r="2.65"/>
<circle cx="365.7" cy="349.2" r="2.65"/>
<circle cx="361.0" cy="356.7" r="2.65"/>
<circle cx="390.2" cy="355.5" r="2.65"/>
<circle cx="390.2" cy="360.7" r="2.65"/>
<circle cx="380.3" cy="360.1" r="2.65"/>
<circle cx="380.3" cy="364.1" r="2.65"/>
<circle cx="380.3" cy="367.0" r="2.65"/>
<circle cx="338.8" cy="368.0" r="2.65"/>
<circle cx="342.7" cy="368.0" r="2.65"/>
<circle cx="366.5" cy="368.6" r="2.65"/>
<circle cx="368.5" cy="368.6" r="2.65"/>
<circle cx="319.2" cy="373.1" r="2.65"/>
<circle cx="325.9" cy="374.3" r="2.65"/>
<circle cx="328.5" cy="373.5" r="2.65"/>
<circle cx="340.3" cy="374.3" r="2.65"/>
<circle cx="341.1" cy="376.8" r="2.65"/>
<circle cx="346.1" cy="376.0" r="2.65"/>
<circle cx="368.0" cy="376.0" r="2.65"/>
<circle cx="368.0" cy="379.4" r="2.65"/>
<circle cx="330.2" cy="379.4" r="2.65"/>
<circle cx="329.3" cy="381.9" r="2.65"/>
<circle cx="321.7" cy="383.6" r="2.65"/>
<circle cx="338.6" cy="383.6" r="2.65"/>
<circle cx="341.1" cy="384.4" r="2.65"/>
<circle cx="351.2" cy="383.2" r="2.65"/>
<circle cx="357.9" cy="381.9" r="2.65"/>
<circle cx="360.5" cy="384.4" r="2.65"/>
<circle cx="351.2" cy="389.5" r="2.65"/>
<circle cx="331.0" cy="392.8" r="2.65"/>
<circle cx="329.3" cy="396.2" r="2.65"/>
<circle cx="331.8" cy="396.2" r="2.65"/>
<circle cx="342.8" cy="393.7" r="2.65"/>
<circle cx="341.1" cy="397.0" r="2.65"/>
<circle cx="341.1" cy="400.4" r="2.65"/>
<circle cx="352.0" cy="395.4" r="2.65"/>
<circle cx="352.9" cy="397.9" r="2.65"/>
<circle cx="360.5" cy="396.2" r="2.65"/>
<circle cx="360.5" cy="399.6" r="2.65"/>
<circle cx="360.5" cy="403.8" r="2.65"/>
<circle cx="360.5" cy="407.1" r="2.65"/>
<circle cx="360.5" cy="410.5" r="2.65"/>
<circle cx="360.5" cy="413.9" r="2.65"/>
<circle cx="357.9" cy="402.1" r="2.65"/>
<circle cx="357.9" cy="406.3" r="2.65"/>
<circle cx="357.9" cy="409.7" r="2.65"/>
<circle cx="351.2" cy="402.9" r="2.65"/>
<circle cx="353.7" cy="408.8" r="2.65"/>
<circle cx="370.6" cy="392.8" r="2.65"/>
<circle cx="372.2" cy="395.4" r="2.65"/>
<circle cx="368.0" cy="404.6" r="2.65"/>
<circle cx="338.6" cy="405.5" r="2.65"/>
<circle cx="341.9" cy="406.3" r="2.65"/>
<circle cx="340.3" cy="410.5" r="2.65"/>
<circle cx="326.8" cy="412.2" r="2.65"/>
<circle cx="329.3" cy="412.2" r="2.65"/>
<circle cx="333.5" cy="413.5" r="2.65"/>
<circle cx="322.6" cy="417.2" r="2.65"/>
<circle cx="320.9" cy="419.8" r="2.65"/>
<circle cx="328.5" cy="420.6" r="2.65"/>
<circle cx="333.5" cy="421.4" r="2.65"/>
<circle cx="333.5" cy="424.0" r="2.65"/>
<circle cx="341.9" cy="418.1" r="2.65"/>
<circle cx="340.3" cy="420.6" r="2.65"/>
<circle cx="341.1" cy="424.0" r="2.65"/>
<circle cx="351.2" cy="420.3" r="2.65"/>
<circle cx="358.4" cy="419.3" r="2.65"/>
<circle cx="368.0" cy="420.6" r="2.65"/>
<circle cx="368.0" cy="422.3" r="2.65"/>
<circle cx="373.0" cy="418.9" r="2.65"/>
<circle cx="373.0" cy="424.8" r="2.65"/>
<circle cx="351.2" cy="427.3" r="2.65"/>
<circle cx="353.7" cy="427.3" r="2.65"/>
<circle cx="331.0" cy="430.7" r="2.65"/>
<circle cx="373.0" cy="440.0" r="2.65"/>
<circle cx="321.4" cy="444.2" r="2.65"/>
<circle cx="429.9" cy="341.0" r="2.65"/>
<circle cx="429.9" cy="349.5" r="2.65"/>
<circle cx="412.5" cy="358.8" r="2.65"/>
<circle cx="420.4" cy="364.7" r="2.65"/>
<circle cx="403.2" cy="368.3" r="2.65"/>
<circle cx="400.6" cy="375.2" r="2.65"/>
<circle cx="380.9" cy="375.6" r="2.65"/>
<circle cx="378.9" cy="378.5" r="2.65"/>
<circle cx="382.8" cy="379.5" r="2.65"/>
<circle cx="390.8" cy="382.5" r="2.65"/>
<circle cx="398.7" cy="382.5" r="2.65"/>
<circle cx="400.6" cy="385.1" r="2.65"/>
<circle cx="373.0" cy="388.4" r="2.65"/>
<circle cx="372.0" cy="393.4" r="2.65"/>
<circle cx="374.0" cy="393.4" r="2.65"/>
<circle cx="380.9" cy="391.4" r="2.65"/>
<circle cx="380.9" cy="394.3" r="2.65"/>
<circle cx="385.8" cy="393.4" r="2.65"/>
<circle cx="390.8" cy="395.3" r="2.65"/>
<circle cx="390.8" cy="398.3" r="2.65"/>
<circle cx="392.7" cy="399.3" r="2.65"/>
<circle cx="403.2" cy="393.0" r="2.65"/>
<circle cx="420.4" cy="394.3" r="2.65"/>
<circle cx="429.9" cy="390.0" r="2.65"/>
<circle cx="429.9" cy="392.4" r="2.65"/>
<circle cx="437.8" cy="398.3" r="2.65"/>
<circle cx="378.9" cy="400.3" r="2.65"/>
<circle cx="380.9" cy="403.2" r="2.65"/>
<circle cx="380.9" cy="408.2" r="2.65"/>
<circle cx="380.9" cy="412.1" r="2.65"/>
<circle cx="385.8" cy="408.2" r="2.65"/>
<circle cx="390.8" cy="404.2" r="2.65"/>
<circle cx="403.2" cy="400.3" r="2.65"/>
<circle cx="407.5" cy="400.3" r="2.65"/>
<circle cx="412.5" cy="403.6" r="2.65"/>
<circle cx="400.6" cy="407.2" r="2.65"/>
<circle cx="403.2" cy="415.5" r="2.65"/>
<circle cx="412.5" cy="414.1" r="2.65"/>
<circle cx="429.9" cy="413.1" r="2.65"/>
<circle cx="380.9" cy="427.5" r="2.65"/>
<circle cx="385.8" cy="423.0" r="2.65"/>
<circle cx="385.8" cy="427.0" r="2.65"/>
<circle cx="385.8" cy="431.9" r="2.65"/>
<circle cx="390.8" cy="426.0" r="2.65"/>
<circle cx="390.8" cy="429.9" r="2.65"/>
<circle cx="403.2" cy="425.6" r="2.65"/>
<circle cx="420.4" cy="421.4" r="2.65"/>
<circle cx="429.9" cy="421.0" r="2.65"/>
<circle cx="429.9" cy="424.0" r="2.65"/>
<circle cx="442.5" cy="284.5" r="2.65"/>
<circle cx="441.8" cy="366.8" r="2.65"/>
<circle cx="459.3" cy="367.0" r="2.65"/>
<circle cx="442.2" cy="379.7" r="2.65"/>
<circle cx="437.3" cy="398.3" r="2.65"/>
<circle cx="442.2" cy="394.4" r="2.65"/>
<circle cx="442.2" cy="417.1" r="2.65"/>
<circle cx="327.3" cy="411.5" r="2.65"/>
<circle cx="333.5" cy="413.1" r="2.65"/>
<circle cx="341.2" cy="410.8" r="2.65"/>
<circle cx="343.5" cy="416.2" r="2.65"/>
<circle cx="342.7" cy="419.2" r="2.65"/>
<circle cx="341.2" cy="423.5" r="2.65"/>
<circle cx="359.6" cy="410.8" r="2.65"/>
<circle cx="361.2" cy="413.8" r="2.65"/>
<circle cx="353.5" cy="410.0" r="2.65"/>
<circle cx="373.5" cy="440.3" r="2.65"/>
<circle cx="385.5" cy="432.3" r="2.65"/>
<circle cx="390.4" cy="355.5" r="2.65"/>
<circle cx="390.4" cy="360.7" r="2.65"/>
</svg></body></html>
